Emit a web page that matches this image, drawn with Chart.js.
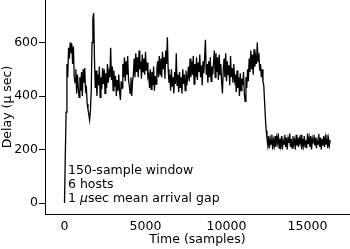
<!DOCTYPE html>
<html><head><meta charset="utf-8">
<script src="https://cdn.jsdelivr.net/npm/chart.js@4"></script>
<style>html,body{margin:0;padding:0;background:#fff}canvas{display:block}</style>
</head><body>
<canvas id="c" width="350" height="249"></canvas>
<script>
// sampling interval of the trace (samples between stored values)
const sampleStep = 50;

// Delay (µsec), one value every sampleStep samples
const rampAndSpike = [0,180,340,520,470,580,540,600,560,595,520,585,470,450,500,410,480,430,395,470,
  420,490,400,500,450,505,420,430,370,350,330,310,345,420,600,690,710,540];
const plateau = [
  430,495,400,480,440,510,395,470,425,505,
  445,500,410,485,430,520,450,490,470,580,
  460,510,420,495,435,475,400,460,420,480,
  415,385,455,430,520,470,545,455,530,480,
  550,460,440,410,470,400,455,480,540,470,
  560,490,545,470,570,500,530,465,555,490,
  540,480,565,495,525,470,480,430,500,425,
  490,440,510,420,475,445,500,530,470,550,
  480,540,470,565,500,545,465,570,520,620,
  500,450,480,420,500,435,470,410,490,445,
  560,440,480,415,490,430,470,410,500,445,
  480,420,495,440,470,510,455,540,470,530,
  480,550,445,520,470,545,460,525,490,555,
  470,515,440,530,485,545,610,480,520,450,
  530,470,545,455,510,480,525,570,470,560,
  490,545,460,555,480,520,450,410,500,540,
  470,560,455,530,480,515,440,550,470,505,
  450,520,460,480,415,495,430,470,400,485,
  420,465,440,490,410,380,470,430,500,455,
  540,490,570,500,555,480,575,510,545,520,
  600,530,560,495,520,470,500,455];
const dropSeg = [440,380,320,270,240];
const lowBand = [
  215,250,205,240,220,255,200,235,215,250,
  210,245,225,260,205,240,215,250,200,235,
  220,255,210,245,200,240,225,260,210,240,
  205,250,220,235,200,255,215,245,210,240,
  225,255,200,240,215,250,210,235,205,260,
  220,245,210,250,200,240,225,255,215,245,
  205,235,220,258,210,245,200,240,215,250,
  210,245,220,255,205,240,215,235];
const delay = rampAndSpike.concat(plateau, dropSeg, lowBand);

const xTicks = [0, 5000, 10000, 15000];
const yTicks = [0, 200, 400, 600];
const xTitle = 'Time (samples)';
const yTitle = 'Delay (\u03bc sec)';
const notes = ['150-sample window', '6 hosts', '1 \u03bcsec mean arrival gap'];

const FAM = '"DejaVu Sans"';
const FS = 12.5;
const FONT = {family: FAM, size: FS};

const notesPlugin = {
  id: 'notes',
  afterDatasetsDraw(chart) {
    const ctx = chart.ctx, a = chart.chartArea;
    ctx.save();
    ctx.fillStyle = '#000';
    ctx.textBaseline = 'alphabetic';
    ctx.textAlign = 'left';
    notes.forEach((line, k) => {
      let x = a.left + 23;
      const y = a.top + 174 + k * 13.85;
      const parts = line.split('\u03bc');
      parts.forEach((p, j) => {
        ctx.font = FS + 'px ' + FAM;
        ctx.fillText(p, x, y);
        x += ctx.measureText(p).width;
        if (j < parts.length - 1) {
          ctx.font = 'italic ' + FS + 'px ' + FAM;
          ctx.fillText('\u03bc', x, y);
          x += ctx.measureText('\u03bc').width;
        }
      });
    });
    ctx.restore();
  }
};

new Chart(document.getElementById('c'), {
  type: 'line',
  data: {
    datasets: [{
      data: delay.map((v, i) => ({x: i * sampleStep, y: v})),
      borderColor: '#000',
      borderWidth: 1.3,
      pointRadius: 0,
      tension: 0,
      fill: false
    }]
  },
  options: {
    responsive: false,
    animation: false,
    devicePixelRatio: 1,
    layout: {padding: 0},
    plugins: {legend: {display: false}, tooltip: {enabled: false}},
    scales: {
      x: {
        type: 'linear', min: -1204, max: 17624,
        afterBuildTicks: s => { s.ticks = xTicks.map(v => ({value: v})); },
        afterFit: s => { s.height = 35; s.paddingLeft = 0; s.paddingRight = 0; },
        grid: {display: true, drawOnChartArea: false, drawTicks: false},
        border: {display: true, color: '#000', width: 1},
        ticks: {color: '#000', font: FONT, padding: 5, maxRotation: 0, autoSkip: false, callback: v => String(v)},
        title: {display: true, text: xTitle, color: '#000', font: FONT, padding: {top: 0, bottom: 1.5}}
      },
      y: {
        type: 'linear', min: -41, max: 759,
        afterBuildTicks: s => { s.ticks = yTicks.map(v => ({value: v})); },
        afterFit: s => { s.width = 45; s.paddingTop = 0; s.paddingBottom = 0; },
        grid: {display: true, drawOnChartArea: false, drawTicks: true, tickLength: 6, color: '#000'},
        border: {display: true, color: '#000', width: 1},
        ticks: {color: '#000', font: FONT, padding: 1, callback: v => String(v)},
        title: {display: true, text: yTitle, color: '#000', font: FONT, padding: 0}
      }
    }
  },
  plugins: [notesPlugin]
});
</script>
</body></html>
